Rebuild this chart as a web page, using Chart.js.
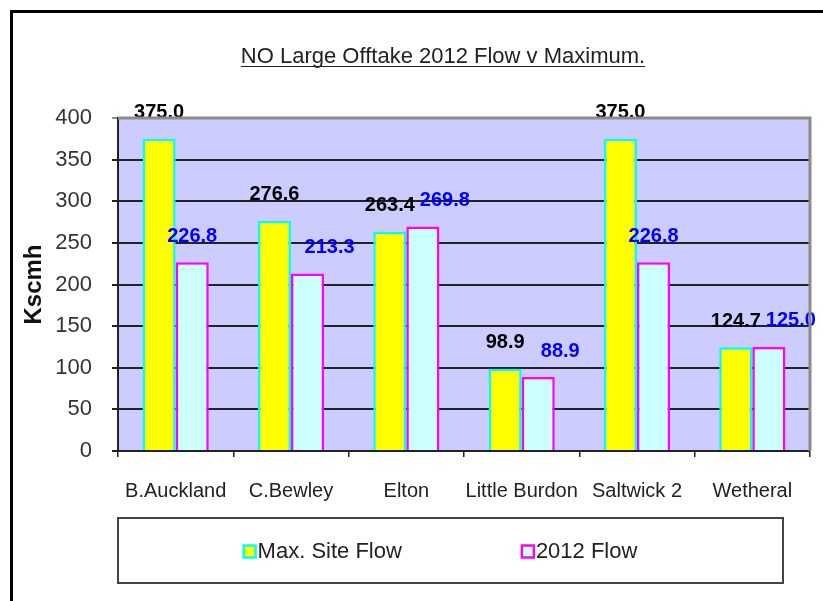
<!DOCTYPE html>
<html>
<head>
<meta charset="utf-8">
<title>NO Large Offtake 2012 Flow v Maximum.</title>
<script src="https://cdn.jsdelivr.net/npm/chart.js@4.4.1/dist/chart.umd.min.js"></script>
<style>
    html, body { margin: 0; padding: 0; background: #ffffff; }
    #wrap { width: 823px; height: 601px; }
</style>
</head>
<body>
<div id="wrap"><canvas id="myChartBar" width="823" height="601"></canvas></div>
<script>
/*** Datos ***/
const sitios = ['B.Auckland', 'C.Bewley', 'Elton', 'Little Burdon', 'Saltwick 2', 'Wetheral'];
const maxSiteFlow = [375.0, 276.6, 263.4, 98.9, 375.0, 124.7];
const flow2012 = [226.8, 213.3, 269.8, 88.9, 226.8, 125.0];
const series = ['Max. Site Flow', '2012 Flow'];
const yMin = 0;
const yMax = 400;
const yStep = 50;
const titulo = 'NO Large Offtake 2012 Flow v Maximum.';
const tituloEje = 'Kscmh';

const FUENTE = '"Liberation Sans", Arial, sans-serif';

/*** Fondo del area de grafico y marco exterior ***/
const fondo = {
    id: 'fondo',
    beforeDraw(chart) {
        const {ctx, chartArea: a} = chart;
        ctx.save();
        ctx.fillStyle = '#ffffff';
        ctx.fillRect(0, 0, chart.width, chart.height);
        ctx.fillStyle = '#CCCCFF';
        ctx.fillRect(a.left, a.top, a.right - a.left, a.bottom - a.top);
        // marco exterior (solo arriba e izquierda quedan dentro de la imagen)
        ctx.strokeStyle = '#000000';
        ctx.lineWidth = 3;
        ctx.beginPath();
        ctx.moveTo(11.5, chart.height + 5);
        ctx.lineTo(11.5, 11.5);
        ctx.lineTo(chart.width + 5, 11.5);
        ctx.stroke();
        ctx.restore();
    },
    afterDraw(chart) {
        const {ctx, chartArea: a} = chart;
        ctx.save();
        // borde gris arriba y a la derecha
        ctx.strokeStyle = '#8c8c8c';
        ctx.lineWidth = 3;
        ctx.beginPath();
        ctx.moveTo(a.left, a.top);
        ctx.lineTo(a.right, a.top);
        ctx.lineTo(a.right, a.bottom);
        ctx.stroke();
        // titulo subrayado
        ctx.font = '22px ' + FUENTE;
        ctx.fillStyle = '#222222';
        ctx.textAlign = 'center';
        ctx.textBaseline = 'alphabetic';
        const tx = 443, ty = 63;
        ctx.fillText(titulo, tx, ty);
        const w = ctx.measureText(titulo).width;
        ctx.strokeStyle = '#222222';
        ctx.lineWidth = 1;
        ctx.beginPath();
        ctx.moveTo(tx - w / 2, ty + 3.5);
        ctx.lineTo(tx + w / 2, ty + 3.5);
        ctx.stroke();
        ctx.restore();
    }
};

/*** Leyenda dentro de un recuadro ***/
const leyenda = {
    id: 'leyenda',
    afterDraw(chart) {
        const {ctx} = chart;
        const box = {x: 118, y: 518, w: 665, h: 65};
        ctx.save();
        ctx.strokeStyle = '#444444';
        ctx.lineWidth = 2;
        ctx.strokeRect(box.x, box.y, box.w, box.h);
        ctx.font = '22px ' + FUENTE;
        ctx.textBaseline = 'middle';
        ctx.textAlign = 'left';
        const caja = 12, sep = 2, hueco = 120;
        const anchos = chart.data.datasets.map(ds => caja + sep + ctx.measureText(ds.label).width);
        const total = anchos.reduce((s, v) => s + v, 0) + hueco * (anchos.length - 1);
        let x = box.x + (box.w - total) / 2 - 10;
        const cy = box.y + box.h / 2 + 1;
        chart.data.datasets.forEach((ds, i) => {
            ctx.fillStyle = ds.backgroundColor;
            ctx.fillRect(x, cy - caja / 2, caja, caja);
            ctx.strokeStyle = ds.borderColor;
            ctx.lineWidth = 2.5;
            ctx.strokeRect(x, cy - caja / 2, caja, caja);
            ctx.fillStyle = '#222222';
            ctx.fillText(ds.label, x + caja + sep, cy);
            x += anchos[i] + hueco;
        });
        ctx.restore();
    }
};

/*** Etiquetas de valores sobre las barras ***/
const etiquetas = {
    id: 'etiquetas',
    afterDatasetsDraw(chart) {
        const {ctx} = chart;
        const colores = ['#000000', '#0000FF'];
        const m0 = chart.getDatasetMeta(0);
        ctx.save();
        ctx.font = 'bold 20px ' + FUENTE;
        ctx.textAlign = 'center';
        ctx.textBaseline = 'middle';
        chart.data.datasets.forEach((ds, d) => {
            const meta = chart.getDatasetMeta(d);
            meta.data.forEach((bar, i) => {
                let x = bar.x;
                const y = bar.y - 26;
                // si choca con la etiqueta de la otra serie se corre a la derecha
                if (d === 1 && Math.abs(m0.data[i].y - bar.y) < 80) {
                    x += 22;
                }
                ctx.fillStyle = colores[d];
                ctx.fillText(ds.data[i].toFixed(1), x, y);
            });
        });
        ctx.restore();
    }
};

let ctx = document.getElementById('myChartBar').getContext('2d');
let grafica = new Chart(ctx, {
    type: 'bar',
    data: {
        labels: sitios,
        datasets: [
            {
                label: series[0],
                data: maxSiteFlow,
                backgroundColor: '#FFFF00',
                borderColor: '#00FFFF',
                borderWidth: 2.5,
                categoryPercentage: 0.574,
                barPercentage: 1.0
            },
            {
                label: series[1],
                data: flow2012,
                backgroundColor: '#CCFFFF',
                borderColor: '#FF00FF',
                borderWidth: 2.5,
                categoryPercentage: 0.574,
                barPercentage: 1.0
            }
        ]
    },
    options: {
        responsive: false,
        animation: false,
        layout: {
            padding: {left: 0, right: 13, top: 118, bottom: 100}
        },
        plugins: {
            legend: {display: false},
            title: {display: false},
            tooltip: {enabled: false}
        },
        scales: {
            x: {
                afterFit: function(scale) { scale.height = 50; },
                grid: {
                    drawOnChartArea: false,
                    drawTicks: true,
                    tickLength: 6,
                    color: '#222222',
                    lineWidth: 1.5
                },
                border: {color: '#222222', width: 2},
                ticks: {
                    color: '#222222',
                    padding: 22,
                    autoSkip: false,
                    maxRotation: 0,
                    minRotation: 0,
                    font: {family: FUENTE, size: 20}
                }
            },
            y: {
                min: yMin,
                max: yMax,
                afterFit: function(scale) { scale.width = 118; },
                grid: {
                    drawTicks: true,
                    tickLength: 6,
                    lineWidth: 2,
                    color: function(c) {
                        return c.tick && c.tick.value === yMax ? '#8c8c8c' : '#222222';
                    }
                },
                border: {color: '#222222', width: 2},
                ticks: {
                    stepSize: yStep,
                    color: '#333333',
                    padding: 20,
                    font: {family: FUENTE, size: 22}
                },
                title: {
                    display: true,
                    text: tituloEje,
                    color: '#111111',
                    padding: {top: 20, bottom: 0},
                    font: {family: FUENTE, size: 24, weight: 'bold'}
                }
            }
        }
    },
    plugins: [fondo, etiquetas, leyenda]
});
</script>
</body>
</html>
